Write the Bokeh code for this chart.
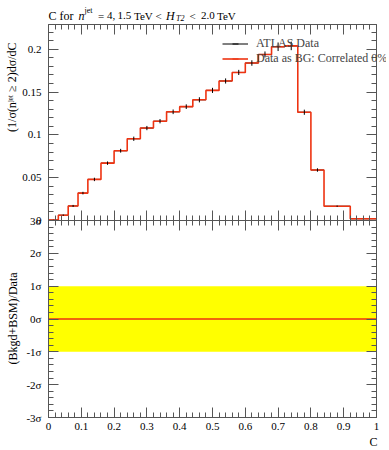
import math
from bokeh.plotting import figure
from bokeh.models import (LinearAxis, Range1d, FixedTicker, Label, Legend, LegendItem)
from bokeh.embed import file_html
from bokeh.resources import INLINE

# ---------------- data ----------------
edges = [0.0, 0.03, 0.06, 0.09, 0.12, 0.16, 0.20, 0.24, 0.28, 0.32, 0.36, 0.40,
         0.44, 0.48, 0.52, 0.56, 0.60, 0.64, 0.68, 0.72, 0.76, 0.80, 0.84, 0.92, 1.0]
data_vals = [0.0005, 0.0062, 0.017, 0.032, 0.048, 0.067, 0.0815, 0.0955, 0.108,
             0.116, 0.127, 0.133, 0.141, 0.152, 0.163, 0.173, 0.184, 0.194,
             0.203, 0.204, 0.1265, 0.059, 0.0167, 0.002]
data_errs = [0.0003, 0.0008, 0.0012, 0.0015, 0.002, 0.002, 0.0022, 0.0025, 0.0025,
             0.0025, 0.0027, 0.0027, 0.003, 0.003, 0.003, 0.003, 0.0032, 0.0035,
             0.005, 0.005, 0.003, 0.002, 0.0008, 0.0004]
mc_vals = [0.0005, 0.0062, 0.017, 0.032, 0.048, 0.067, 0.0815, 0.0955, 0.108,
           0.116, 0.127, 0.133, 0.141, 0.152, 0.163, 0.173, 0.184, 0.194,
           0.203, 0.204, 0.1265, 0.059, 0.0167, 0.002]
ratio_vals = [0.0] * 24
band_lo = [-1.0] * 25
band_hi = [1.0] * 25

main_major = [0.0, 0.05, 0.1, 0.15, 0.2]
main_labels = ["0", "0.05", "0.1", "0.15", "0.2"]
main_minor = [round(0.01 * k, 2) for k in range(23)]
ratio_major = [-3, -2, -1, 0, 1, 2, 3]
ratio_labels = ["-3σ", "-2σ", "-1σ", "0σ", "1σ", "2σ", "3σ"]
ratio_minor = [round(-3 + 0.2 * k, 1) for k in range(31)]
x_major = [round(0.1 * k, 1) for k in range(11)]
x_labels = ["0", "0.1", "0.2", "0.3", "0.4", "0.5", "0.6", "0.7", "0.8", "0.9", "1"]
x_minor = [round(0.02 * k, 2) for k in range(51)]

# ---------------- layout ----------------
W, H = 386, 448
BOX_L, BOX_R, BOX_T, BOX_M, BOX_B = 48, 376, 24, 220, 417   # plot box in canvas px
TOP_MAX = 0.229
RATIO_LIM = 3.0
ux = 1.0 / (BOX_R - BOX_L)
um = TOP_MAX / (BOX_M - BOX_T)
ur = 2 * RATIO_LIM / (BOX_B - BOX_M)

x_rng = Range1d(-BOX_L * ux, (W - BOX_L) * ux)
main_rng = Range1d(-(H - BOX_M) * um, TOP_MAX + BOX_T * um)
ratio_rng = Range1d(RATIO_LIM - (H - BOX_M) * ur, RATIO_LIM + BOX_M * ur)

FONT = "Liberation Serif"
AX = "#555555"
RED = "#EE3311"

p = figure(width=W, height=H, x_range=x_rng, y_range=main_rng, title=None,
           min_border=0, toolbar_location=None, output_backend="svg",
           x_axis_location=None, y_axis_location=None)
p.extra_y_ranges = {"ratio": ratio_rng}
p.grid.grid_line_color = None
p.outline_line_color = None
p.background_fill_color = "white"
p.border_fill_color = "white"


def axis(side, loc, ticks, minor, bounds, rname="default", over=None, tin=10, tout=0,
         standoff=6):
    ax = LinearAxis(fixed_location=loc, y_range_name=rname, bounds=bounds,
                    ticker=FixedTicker(ticks=ticks, minor_ticks=minor))
    ax.axis_line_color = AX
    ax.major_tick_line_color = AX
    ax.minor_tick_line_color = AX
    ax.major_tick_in = tin
    ax.major_tick_out = tout
    ax.minor_tick_in = tin // 2
    ax.minor_tick_out = tout // 2
    ax.major_label_text_font = FONT
    ax.major_label_text_font_size = "11px"
    ax.major_label_standoff = standoff
    if over is None:
        ax.major_label_text_color = None
    else:
        ax.major_label_overrides = over
        ax.major_label_text_color = "black"
    p.add_layout(ax, side)
    return ax


axis("left", 0, main_major, main_minor, (0, TOP_MAX), over=dict(zip(main_major, main_labels)),
     standoff=7)
axis("left", 0, ratio_major, ratio_minor, (-RATIO_LIM, RATIO_LIM), rname="ratio",
     over=dict(zip(ratio_major, ratio_labels)), standoff=7)
axis("right", 1, main_major, main_minor, (0, TOP_MAX))
axis("right", 1, ratio_major, ratio_minor, (-RATIO_LIM, RATIO_LIM), rname="ratio")
axis("above", TOP_MAX, x_major, x_minor, (0, 1))
axis("below", 0, x_major, x_minor, (0, 1), tin=10, tout=10)
axis("below", -RATIO_LIM, x_major, x_minor, (0, 1), rname="ratio",
     over=dict(zip(x_major, x_labels)), standoff=5)

# ---------------- glyphs ----------------
# ratio panel
p.varea(x=edges, y1=band_lo, y2=band_hi, y_range_name="ratio", fill_color="#FFFF00")
p.step(x=edges, y=ratio_vals + [ratio_vals[-1]], mode="after", y_range_name="ratio",
       line_color=RED, line_width=1.6)

# main panel
centers = [(a + b) / 2 for a, b in zip(edges[:-1], edges[1:])]
r_dx = p.segment(x0=edges[:-1], x1=edges[1:], y0=data_vals, y1=data_vals,
                 line_color="black", line_width=1)
r_mc = p.step(x=edges, y=mc_vals + [mc_vals[-1]], mode="after",
              line_color=RED, line_width=1.6)
p.segment(x0=centers, x1=centers,
          y0=[v - e for v, e in zip(data_vals, data_errs)],
          y1=[v + e for v, e in zip(data_vals, data_errs)],
          line_color="black", line_width=1)
# legend-only tick markers
r_dleg = p.scatter(x=[float("nan")], y=[float("nan")], marker="dash", angle=math.pi / 2,
                   size=10, line_color="black", line_width=1)
r_mcleg = p.scatter(x=[float("nan")], y=[float("nan")], marker="dash", angle=math.pi / 2,
                    size=10, line_color=RED, line_width=1.2)

leg = Legend(items=[LegendItem(label="ATLAS Data", renderers=[r_dx, r_dleg]),
                    LegendItem(label="Data as BG: Correlated 0%", renderers=[r_mc, r_mcleg])],
             location=(222, 382), glyph_width=26, glyph_height=15, spacing=0,
             label_standoff=8, padding=0, margin=0, border_line_color=None,
             background_fill_alpha=0, label_text_font=FONT, label_text_font_size="12px",
             label_height=12)
p.add_layout(leg)

# ---------------- texts (screen px from the canvas bottom-left) ----------------
def lab(text, x, y, size="11px", style="normal", align="left", baseline="alphabetic", angle=0):
    p.add_layout(Label(x=x, y=y, x_units="screen", y_units="screen", text=text,
                       text_font=FONT, text_font_size=size, text_font_style=style,
                       text_align=align, text_baseline=baseline, angle=angle,
                       text_color="black"))


TY = H - 15
lab("C for", 48, TY, size="12px")
lab("n", 78, TY, size="12px", style="italic")
lab("jet", 84, TY + 5, size="8px")
lab("=", 97.5, TY)
lab("4,", 106.5, TY)
lab("1.5", 117, TY)
lab("TeV", 133.5, TY)
lab("<", 155, TY)
lab("H", 165.5, TY, size="12px", style="italic")
lab("T2", 175.5, TY - 3, size="8px", style="italic")
lab("<", 189, TY)
lab("2.0", 200.5, TY)
lab("TeV", 216.5, TY)

lab("(1/σ(nʲᵉᵗ ≥ 2)dσ/dC", 11, H - 42, size="12px", align="right", baseline="middle",
    angle=math.pi / 2)
lab("(Bkgd+BSM)/Data", 12.5, H - 318, size="12px", align="center", baseline="middle",
    angle=math.pi / 2)
lab("C", 377, H - 441, size="12px", align="right", baseline="middle")

open("out.html", "w").write(file_html(p, INLINE))
